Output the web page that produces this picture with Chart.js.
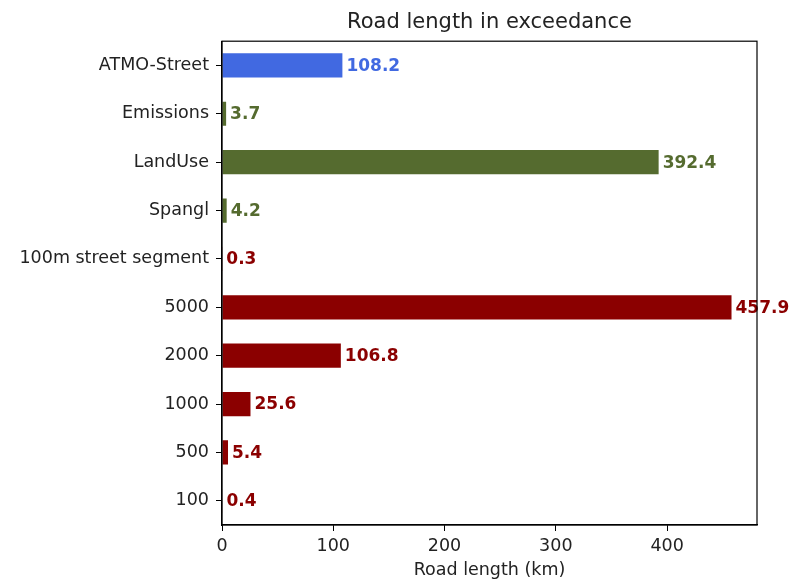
<!DOCTYPE html>
<html>
<head>
<meta charset="utf-8">
<script src="https://cdn.jsdelivr.net/npm/chart.js@4"></script>
<style>
  html, body { margin: 0; padding: 0; background: #fff; }
  canvas { display: block; }
</style>
</head>
<body>
<canvas id="c" width="789" height="579"></canvas>
<script>
const categories = ["ATMO-Street", "Emissions", "LandUse", "Spangl", "100m street segment", "5000", "2000", "1000", "500", "100"];
const roadLength = [108.2, 3.7, 392.4, 4.2, 0.3, 457.9, 106.8, 25.6, 5.4, 0.4];
const barColors = ["#4169E1", "#556B2F", "#556B2F", "#556B2F", "#8B0000", "#8B0000", "#8B0000", "#8B0000", "#8B0000", "#8B0000"];
const xTicks = [0, 100, 200, 300, 400];

const FONT = "'DejaVu Sans', sans-serif";

const framePlugin = {
  id: 'frame',
  afterDraw(chart) {
    const {ctx, chartArea: a} = chart;
    ctx.save();
    ctx.strokeStyle = '#000';
    ctx.lineWidth = 1.2;
    ctx.strokeRect(a.left, a.top, a.right - a.left, a.bottom - a.top);
    ctx.restore();
  }
};

const valueLabels = {
  id: 'valueLabels',
  afterDatasetsDraw(chart) {
    const {ctx} = chart;
    const meta = chart.getDatasetMeta(0);
    ctx.save();
    ctx.font = "bold 17px " + FONT;
    ctx.textAlign = 'left';
    ctx.textBaseline = 'middle';
    meta.data.forEach((bar, i) => {
      ctx.fillStyle = barColors[i];
      ctx.fillText(roadLength[i].toFixed(1), bar.x + 4, bar.y + 1);
    });
    ctx.restore();
  }
};

new Chart(document.getElementById('c'), {
  type: 'bar',
  data: {
    labels: categories,
    datasets: [{
      data: roadLength,
      backgroundColor: barColors,
      borderWidth: 0,
      barPercentage: 0.5,
      categoryPercentage: 1.0
    }]
  },
  options: {
    indexAxis: 'y',
    responsive: false,
    animation: false,
    events: [],
    layout: { padding: { left: 0, right: 32, top: 0, bottom: 0 } },
    plugins: {
      legend: { display: false },
      tooltip: { enabled: false },
      title: {
        display: true,
        text: 'Road length in exceedance',
        fullSize: false,
        color: '#222',
        font: { family: FONT, size: 21, weight: 'normal' },
        padding: { top: 10, bottom: 6 }
      }
    },
    scales: {
      x: {
        type: 'linear',
        min: 0,
        max: 480.8,
        afterFit(s) { s.height = 54; },
        afterBuildTicks(s) { s.ticks = xTicks.map(v => ({ value: v })); },
        ticks: {
          stepSize: 100,
          includeBounds: false,
          color: '#222',
          padding: 5,
          font: { family: FONT, size: 17.5 }
        },
        grid: { display: true, drawOnChartArea: false, drawTicks: true, tickLength: 6, color: '#000' },
        border: { display: true, color: '#000', width: 1.2 },
        title: {
          display: true,
          text: 'Road length (km)',
          color: '#222',
          font: { family: FONT, size: 17.5 },
          padding: { top: 0, bottom: -2 }
        }
      },
      y: {
        type: 'category',
        offset: true,
        afterFit(s) { s.width = 222; },
        ticks: {
          color: '#222',
          padding: 7,
          font: { family: FONT, size: 17.5 }
        },
        grid: { display: true, offset: false, drawOnChartArea: false, drawTicks: true, tickLength: 6, color: '#000' },
        border: { display: true, color: '#000', width: 1.2 }
      }
    }
  },
  plugins: [framePlugin, valueLabels]
});
</script>
</body>
</html>
